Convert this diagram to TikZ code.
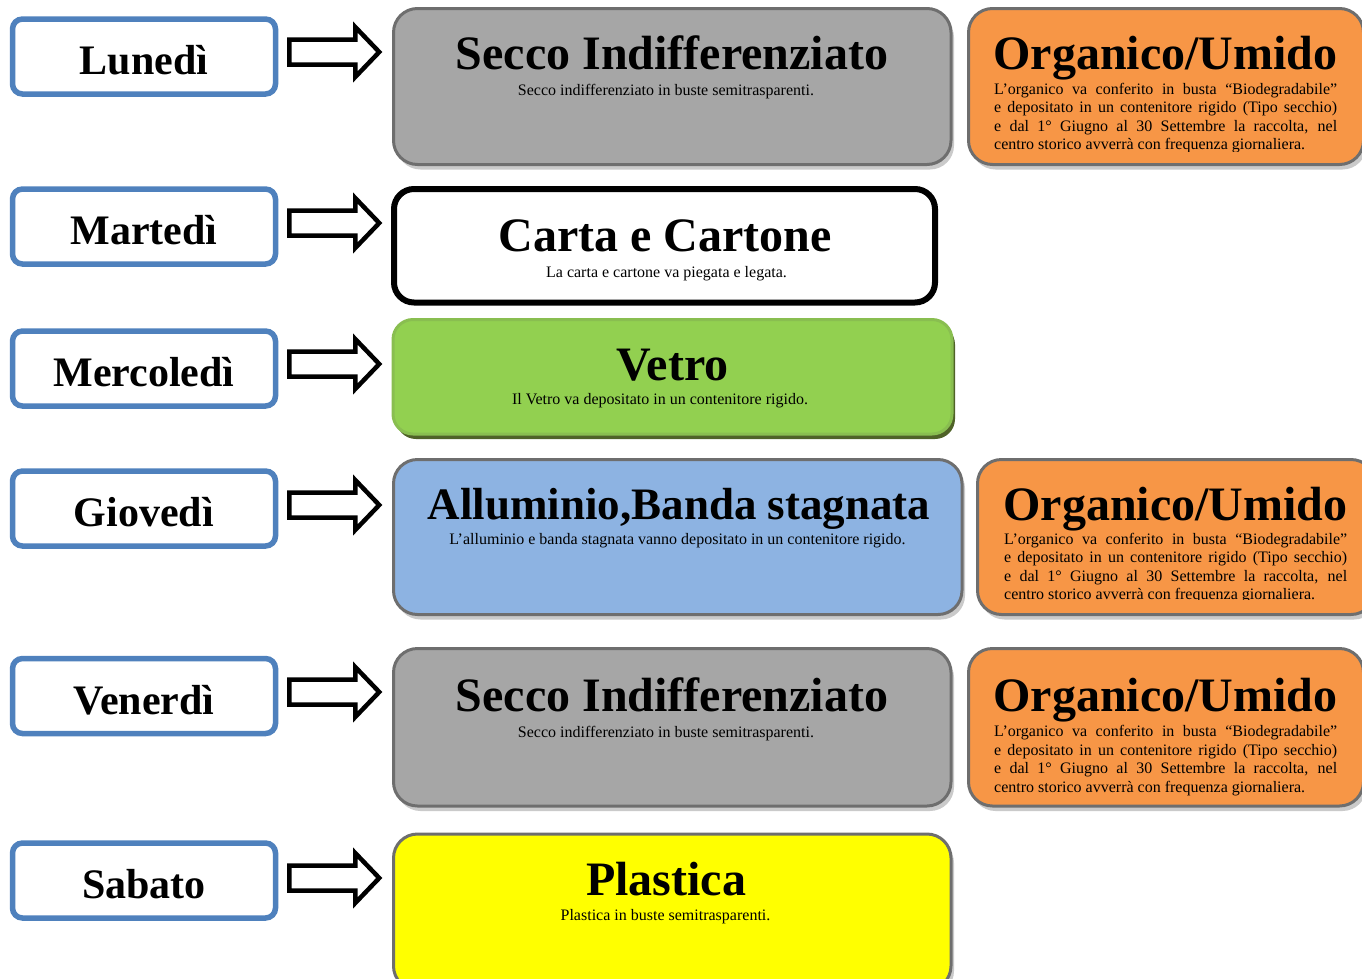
\documentclass[tikz,border=0pt]{standalone}
\usepackage{fontspec}
\setmainfont{Liberation Serif}
\usetikzlibrary{shadows}
\definecolor{edge_blue}{RGB}{79,129,189}
\definecolor{node_gray}{RGB}{166,166,166}
\definecolor{edge_gray}{RGB}{110,110,110}
\definecolor{node_orange}{RGB}{247,150,70}
\definecolor{node_green}{RGB}{146,208,80}
\definecolor{edge_green}{RGB}{137,190,80}
\definecolor{shadow_green}{RGB}{79,98,40}
\definecolor{node_blue}{RGB}{141,179,226}
\definecolor{node_yellow}{RGB}{255,255,0}
\newcommand\orgtesto{%
  L’organico va conferito in busta “Biodegradabile”\linebreak
  e depositato in un contenitore rigido (Tipo secchio)\linebreak
  e dal 1° Giugno al 30 Settembre la raccolta, nel\linebreak
  centro storico avverrà con frequenza giornaliera.}

\begin{document}
\begin{tikzpicture}[x=1pt,y=-1pt]
    \tikzstyle{daybox}=[draw=edge_blue, line width=5.5pt, rounded corners=10pt, minimum width=263pt, minimum height=75pt, fill=white, text height=36pt, text depth=0pt, font=\fontsize{42}{48}\selectfont\bfseries]
    \tikzstyle{blk}=[draw=black, line width=4.5pt, fill=white, miter limit=10]
    \tikzstyle{binbox}=[draw=edge_gray, line width=3pt, rounded corners=24pt]
    \tikzstyle{grayshadow}=[drop shadow={shadow xshift=3pt, shadow yshift=-5pt, fill=black!35, opacity=0.6}]
    \tikzstyle{greenshadow}=[drop shadow={shadow xshift=3pt, shadow yshift=-5pt, fill=shadow_green, opacity=1}]
    \tikzstyle{bintitle}=[anchor=base, inner sep=0pt, font=\fontsize{48}{56}\selectfont\bfseries]
    \tikzstyle{bintext}=[anchor=base, inner sep=0pt, font=\fontsize{16}{18.5}\selectfont]
    \tikzstyle{orgtext}=[anchor=base west, inner sep=0pt, text width=343pt, align=justify, font=\fontsize{16}{18.5}\selectfont]

    \useasboundingbox (0,0) rectangle (1362,978);

    % giorni
    \node[daybox] (lun) at (144,56.5)  {Lunedì};
    \node[daybox] (mar) at (144,226.5) {Martedì};
    \node[daybox] (mer) at (144,368.5) {Mercoledì};
    \node[daybox] (gio) at (144,508.5) {Giovedì};
    \node[daybox] (ven) at (144,696)   {Venerdì};
    \node[daybox] (sab) at (144,880.5) {Sabato};

    % frecce
    \draw[blk] ([shift={(11,-4.5)}]lun.east) ++(0,-12.5) -- ++(66,0) -- ++(0,-12.5) -- ++(24,25) -- ++(-24,25) -- ++(0,-12.5) -- ++(-66,0) -- cycle;
    \draw[blk] ([shift={(11,-3.5)}]mar.east) ++(0,-12.5) -- ++(66,0) -- ++(0,-12.5) -- ++(24,25) -- ++(-24,25) -- ++(0,-12.5) -- ++(-66,0) -- cycle;
    \draw[blk] ([shift={(11,-4.5)}]mer.east) ++(0,-12.5) -- ++(66,0) -- ++(0,-12.5) -- ++(24,25) -- ++(-24,25) -- ++(0,-12.5) -- ++(-66,0) -- cycle;
    \draw[blk] ([shift={(11,-3.5)}]gio.east) ++(0,-12.5) -- ++(66,0) -- ++(0,-12.5) -- ++(24,25) -- ++(-24,25) -- ++(0,-12.5) -- ++(-66,0) -- cycle;
    \draw[blk] ([shift={(11,-4)}]ven.east)   ++(0,-12.5) -- ++(66,0) -- ++(0,-12.5) -- ++(24,25) -- ++(-24,25) -- ++(0,-12.5) -- ++(-66,0) -- cycle;
    \draw[blk] ([shift={(11,-2.5)}]sab.east) ++(0,-12.5) -- ++(66,0) -- ++(0,-12.5) -- ++(24,25) -- ++(-24,25) -- ++(0,-12.5) -- ++(-66,0) -- cycle;

    % contenitori
    \node[binbox, grayshadow, fill=node_gray, minimum width=557.5pt, minimum height=156pt] (secco1) at (672.25,86.5) {};
    \node[binbox, grayshadow, fill=node_orange, minimum width=395pt, minimum height=156pt] (org1) at (1166,86.5) {};
    \node[binbox, draw=black, line width=6pt, rounded corners=20pt, fill=white, minimum width=541pt, minimum height=113.5pt] (carta) at (664.5,245.75) {};
    \node[binbox, greenshadow, draw=edge_green, fill=node_green, rounded corners=20pt, minimum width=559pt, minimum height=114.5pt] (vetro) at (672.5,376.75) {};
    \node[binbox, grayshadow, fill=node_blue, minimum width=568.5pt, minimum height=155pt] (allu) at (677.75,537) {};
    \node[binbox, grayshadow, fill=node_orange, minimum width=397.5pt, minimum height=155pt] (org4) at (1176.25,537) {};
    \node[binbox, grayshadow, fill=node_gray, minimum width=557.5pt, minimum height=157.5pt] (secco5) at (672.25,727.25) {};
    \node[binbox, grayshadow, fill=node_orange, minimum width=395pt, minimum height=157.5pt] (org5) at (1166,727.25) {};
    \node[binbox, grayshadow, fill=node_yellow, minimum width=557.5pt, minimum height=156pt] (plast) at (672.25,912) {};

    % testi
    \node[bintitle] (secco1t) at (672,69)  {Secco Indifferenziato};
    \node[bintext]  (secco1s) at (666,95)  {Secco indifferenziato in buste semitrasparenti.};
    \node[bintitle] (org1t)   at (1165.5,69) {Organico/Umido};
    \begin{scope}
      \clip (960,0) rectangle (1362,151);
      \node[orgtext] (org1s) at (994,94) {\orgtesto};
    \end{scope}
    \node[bintitle] (cartat)  at (665,251)   {Carta e Cartone};
    \node[bintext]  (cartas)  at (666.5,277) {La carta e cartone va piegata e legata.};
    \node[bintitle] (vetrot)  at (672.5,380) {Vetro};
    \node[bintext]  (vetros)  at (660,404)   {Il Vetro va depositato in un contenitore rigido.};
    \node[bintitle, font=\fontsize{45}{52}\selectfont\bfseries] (allut) at (679,519) {Alluminio,Banda stagnata};
    \node[bintext]  (allus)   at (677.5,544) {L’alluminio e banda stagnata vanno depositato in un contenitore rigido.};
    \node[bintitle] (org4t)   at (1175.5,520) {Organico/Umido};
    \begin{scope}
      \clip (960,450) rectangle (1362,599);
      \node[orgtext] (org4s) at (1004,544) {\orgtesto};
    \end{scope}
    \node[bintitle] (secco5t) at (672,711)  {Secco Indifferenziato};
    \node[bintext]  (secco5s) at (666,737)  {Secco indifferenziato in buste semitrasparenti.};
    \node[bintitle] (org5t)   at (1165.5,711) {Organico/Umido};
    \node[orgtext]  (org5s)   at (994,736.5) {\orgtesto};
    \node[bintitle] (plastt)  at (666,895)   {Plastica};
    \node[bintext]  (plasts)  at (665.5,920) {Plastica in buste semitrasparenti.};
\end{tikzpicture}
\end{document}
